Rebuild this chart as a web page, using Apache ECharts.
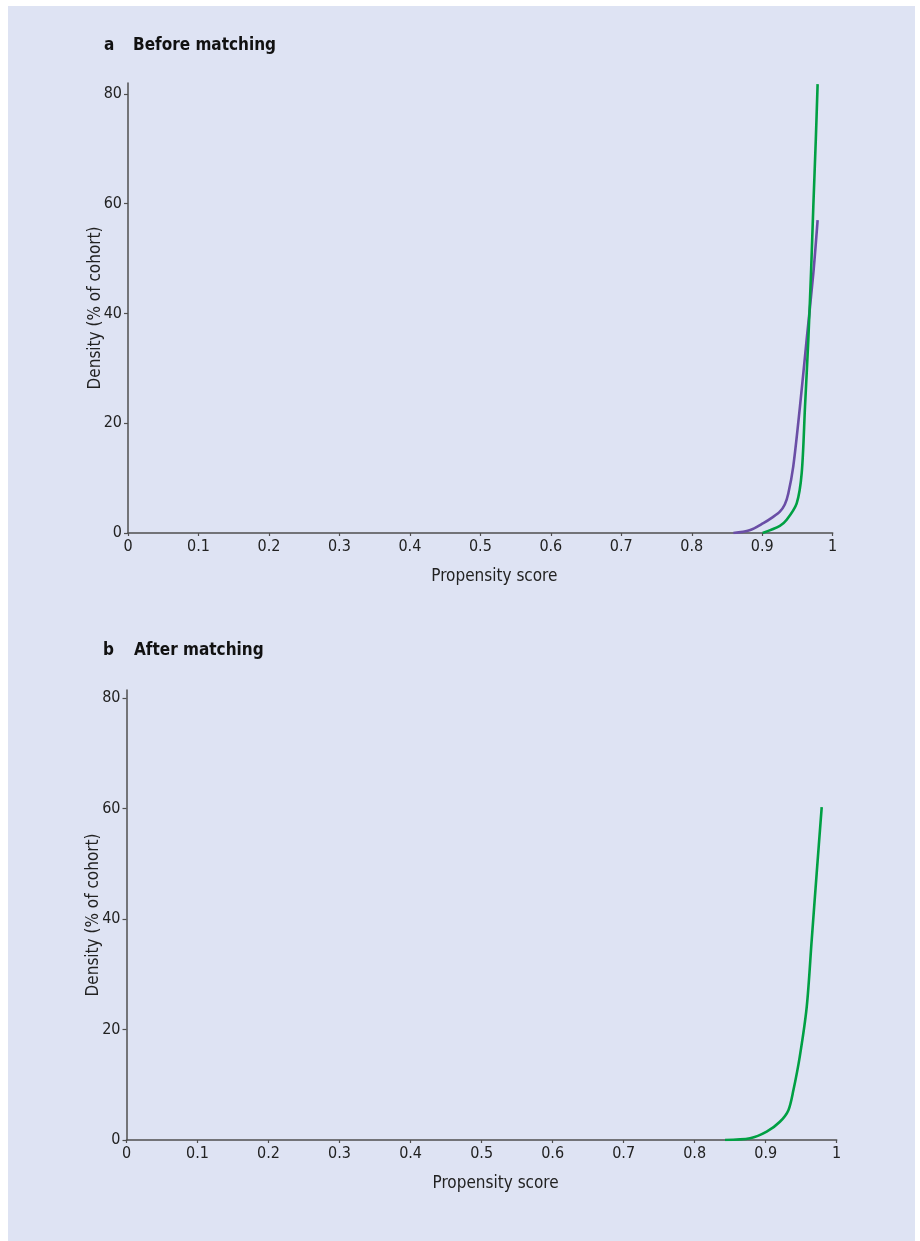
<!DOCTYPE html>
<html>
<head>
<meta charset="utf-8">
<script src="https://cdn.jsdelivr.net/npm/echarts@6/dist/echarts.min.js"></script>
<style>
html,body{margin:0;padding:0;background:#ffffff;}
#bg{position:absolute;left:8px;top:6px;width:907px;height:1235px;background:#dee3f3;}
#chart{position:absolute;left:0;top:0;width:920px;height:1241px;}
</style>
</head>
<body>
<div id="bg"></div>
<div id="chart"></div>
<script>
// Panel a: before matching
const beforePurpleX = [0.859, 0.882, 0.9016, 0.915, 0.925, 0.932, 0.937, 0.944, 0.9535, 0.963, 0.9725, 0.9786];
const beforePurpleY = [0, 0.5, 1.8, 2.9, 3.9, 5.2, 7.2, 12.1, 23, 35.2, 47.3, 57.0];
const beforeGreenX = [0.9006, 0.925, 0.9347, 0.9489, 0.956, 0.9607, 0.9654, 0.9692, 0.9725, 0.976, 0.9786];
const beforeGreenY = [0, 1.3, 2.4, 5.4, 10.9, 23, 35.2, 47.3, 59.5, 71.6, 81.8];
// Panel b: after matching
const afterGreenX = [0.8427, 0.878, 0.9014, 0.920, 0.932, 0.939, 0.948, 0.9578, 0.9648, 0.9718, 0.9789];
const afterGreenY = [0, 0.3, 1.5, 3.3, 5.4, 9.0, 15.1, 24.1, 36.2, 48.3, 60.3];
// Ticks
const xTicks = [0, 0.1, 0.2, 0.3, 0.4, 0.5, 0.6, 0.7, 0.8, 0.9, 1];
const yTicks = [0, 20, 40, 60, 80];
const titleA = ['a', 'Before matching'];
const titleB = ['b', 'After matching'];
const xName = 'Propensity score';
const yName = 'Density (% of cohort)';

const FONT = "'DejaVu Sans Condensed', 'Liberation Sans', sans-serif";
const PURPLE = '#6a4ea6';
const GREEN = '#00a043';
const AXIS = '#4f4f4f';

function pairs(xs, ys) { return xs.map((x, i) => [x, ys[i]]); }

function xAxis(gridIndex) {
  return {
    type: 'value', gridIndex, min: 0, max: 1, interval: 0.1,
    name: xName, nameLocation: 'middle', nameGap: 35, nameMoveOverlap: false,
    nameTextStyle: { fontFamily: FONT, fontSize: 17, color: '#222', padding: [0, 0, 0, 28] },
    axisLine: { show: true, onZero: false, lineStyle: { color: AXIS, width: 1.5 } },
    axisTick: { show: true, length: 3, customValues: xTicks, lineStyle: { color: AXIS, width: 1.2 } },
    axisLabel: { customValues: xTicks, fontFamily: FONT, fontSize: 16, color: '#222', margin: 6,
      formatter: v => String(Math.round(v * 10) / 10) },
    splitLine: { show: false }
  };
}
function yAxis(gridIndex, max) {
  return {
    type: 'value', gridIndex, min: 0, max: max,
    name: yName, nameLocation: 'middle', nameGap: 24, nameRotate: 90, nameMoveOverlap: false,
    nameTextStyle: { fontFamily: FONT, fontSize: 17, color: '#222' },
    axisLine: { show: true, onZero: false, lineStyle: { color: AXIS, width: 1.5 } },
    axisTick: { show: true, length: 4, customValues: yTicks, lineStyle: { color: AXIS, width: 1.2 } },
    axisLabel: { customValues: yTicks, fontFamily: FONT, fontSize: 16, color: '#222', margin: 6 },
    splitLine: { show: false }
  };
}
function line(xi, data, color) {
  return {
    type: 'line', xAxisIndex: xi, yAxisIndex: xi, data, showSymbol: false, symbol: 'none',
    smooth: 0.3, lineStyle: { color, width: 2.6 }, silent: true
  };
}
const titleStyle = { fontFamily: FONT, fontSize: 17, fontWeight: 'bold', color: '#111' };

const chart = echarts.init(document.getElementById('chart'), null, { renderer: 'canvas' });
chart.setOption({
  animation: false,
  title: [
    { text: titleA[0], left: 104, top: 37, textStyle: titleStyle, padding: 0 },
    { text: titleA[1], left: 133, top: 37, textStyle: titleStyle, padding: 0 },
    { text: titleB[0], left: 103, top: 642, textStyle: titleStyle, padding: 0 },
    { text: titleB[1], left: 134, top: 642, textStyle: titleStyle, padding: 0 }
  ],
  grid: [
    { left: 128, right: 87.3, top: 83, bottom: 708 },
    { left: 126.5, right: 83.3, top: 690, bottom: 101 }
  ],
  xAxis: [xAxis(0), xAxis(1)],
  yAxis: [yAxis(0, 82), yAxis(1, 81.5)],
  series: [
    line(0, pairs(beforePurpleX, beforePurpleY), PURPLE),
    line(0, pairs(beforeGreenX, beforeGreenY), GREEN),
    line(1, pairs(afterGreenX, afterGreenY), GREEN)
  ]
});
</script>
</body>
</html>
